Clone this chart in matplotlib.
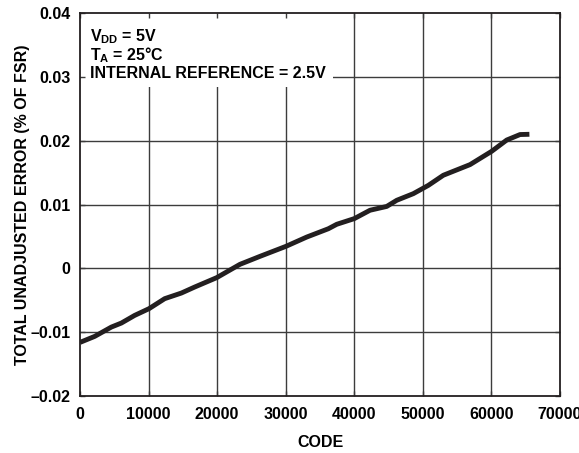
import matplotlib
matplotlib.use("Agg")
import matplotlib.pyplot as plt
from matplotlib.patches import Rectangle
from matplotlib.ticker import FixedLocator, FixedFormatter

plt.rcParams['font.family'] = ['Liberation Sans', 'DejaVu Sans']
plt.rcParams['font.weight'] = 'bold'
plt.rcParams['mathtext.fontset'] = 'custom'
plt.rcParams['mathtext.rm'] = 'Liberation Sans:bold'
plt.rcParams['mathtext.bf'] = 'Liberation Sans:bold'
plt.rcParams['mathtext.it'] = 'Liberation Sans:bold'
plt.rcParams['mathtext.default'] = 'rm'

# data
code = [0, 2140, 4570, 6030, 7970, 10060, 12350, 14780, 16720, 18420, 19930,
        23330, 26250, 30040, 33060, 36210, 37440, 40000, 42290, 44730, 46190,
        48610, 50800, 52980, 56880, 60040, 62230, 64170, 65535]
tue = [-0.0116, -0.01066, -0.0092, -0.00857, -0.00737, -0.00632, -0.00475,
       -0.00387, -0.00293, -0.00215, -0.00146, 0.00063, 0.00188, 0.00345,
       0.0049, 0.0062, 0.0069, 0.00779, 0.0091, 0.0097, 0.01066, 0.0117,
       0.013, 0.01458, 0.01625, 0.01834, 0.0201, 0.02096, 0.0210]

x_ticks = [0, 10000, 20000, 30000, 40000, 50000, 60000, 70000]
x_labels = ["0", "10000", "20000", "30000", "40000", "50000", "60000", "70000"]
y_ticks = [-0.02, -0.01, 0, 0.01, 0.02, 0.03, 0.04]
y_labels = ["\u20130.02", "\u20130.01", "0", "0.01", "0.02", "0.03", "0.04"]
notes = ["V$_{DD}$ = 5V", "T$_{A}$ = 25\u00b0C", "INTERNAL REFERENCE = 2.5V"]

DARK = '#231f20'
GRID = '#3c3c3c'
FS = 11.5

fig = plt.figure(figsize=(5.79, 4.53), dpi=100)
ax = fig.add_axes([0.1382, 0.1258, 0.829, 0.8455])
ax.set_xlim(x_ticks[0], x_ticks[-1])
ax.set_ylim(y_ticks[0], y_ticks[-1])

for xv in x_ticks[1:-1]:
    ax.axvline(xv, color=GRID, lw=1.0, zorder=0.5)
for yv in y_ticks[1:-1]:
    ax.axhline(yv, color=GRID, lw=1.0, zorder=0.5)

ax.add_patch(Rectangle((0.002, 0.807), 0.525, 0.193, transform=ax.transAxes,
                       facecolor='white', edgecolor='none', zorder=1))

ax.plot(code, tue, color=DARK, lw=3.5, solid_capstyle='butt', zorder=2)

ax.set_axisbelow(False)
ax.xaxis.set_major_locator(FixedLocator(x_ticks))
ax.xaxis.set_major_formatter(FixedFormatter(x_labels))
ax.yaxis.set_major_locator(FixedLocator(y_ticks))
ax.yaxis.set_major_formatter(FixedFormatter(y_labels))
ax.tick_params(direction='in', length=3.5, width=1.0, color=GRID,
               top=True, right=True, labelsize=FS)
ax.tick_params(axis='x', pad=8)
ax.tick_params(axis='y', pad=7)
for lab in ax.get_xticklabels() + ax.get_yticklabels():
    lab.set_fontweight('bold')
for sp in ax.spines.values():
    sp.set_linewidth(1.3)
    sp.set_color(DARK)
    sp.set_zorder(3)

ax.set_xlabel("CODE", fontsize=FS, fontweight='bold')
ax.set_ylabel("TOTAL UNADJUSTED ERROR (% OF FSR)", fontsize=FS, fontweight='bold')
ax.xaxis.set_label_coords(0.5, -0.102)
ax.yaxis.set_label_coords(-0.105, 0.5)

ys = [0.927, 0.877, 0.830]
for t, yy in zip(notes, ys):
    ax.text(0.021, yy, t, transform=ax.transAxes, fontsize=FS,
            fontweight='bold', va='baseline', ha='left', zorder=2.2, color='black')

fig.savefig("out.png", dpi=100)
